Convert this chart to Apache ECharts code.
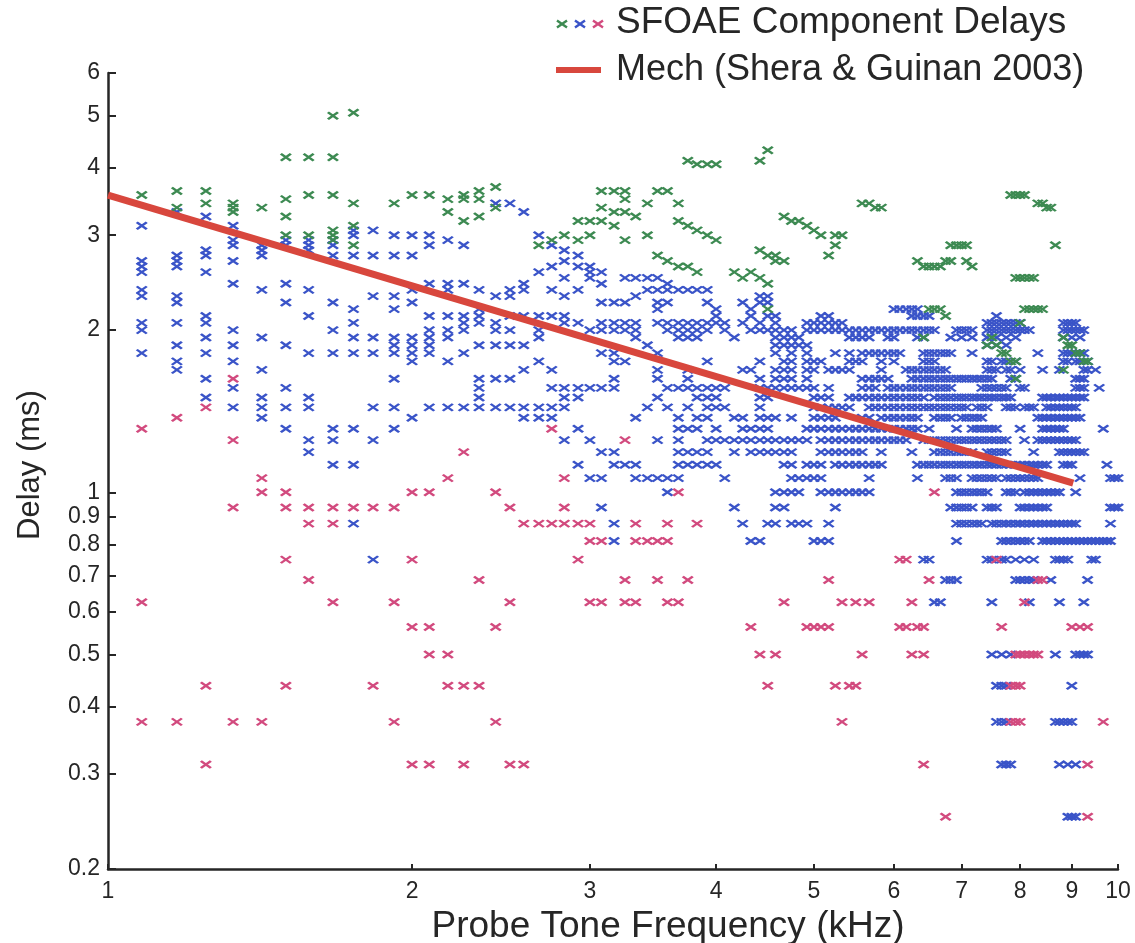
<!DOCTYPE html>
<html>
<head>
<meta charset="utf-8">
<title>SFOAE component delays</title>
<script src="https://cdn.jsdelivr.net/npm/echarts@6/dist/echarts.min.js"></script>
<style>
  html, body { margin: 0; padding: 0; background: #fff; }
  #chart { width: 1135px; height: 943px; }
</style>
</head>
<body>
<div id="chart"></div>
<script>
// Tick values for the two log axes
const freqTicks = [1, 2, 3, 4, 5, 6, 7, 8, 9, 10];
const delayTicks = [0.2, 0.3, 0.4, 0.5, 0.6, 0.7, 0.8, 0.9, 1, 2, 3, 4, 5, 6];

// Each row: [delay (ms), [probe frequencies (kHz) with a component at that delay]]
// Long-delay components (green)
const longDelays = [
  [5.0625, [1.75]],
  [5.0, [1.67]],
  [4.3125, [4.5]],
  [4.1875, [1.5, 1.58, 1.67]],
  [4.125, [3.75, 4.42]],
  [4.0625, [3.83, 3.92, 4]],
  [3.6875, [2.42]],
  [3.625, [1.17, 1.25, 2.33, 3.08, 3.17, 3.25, 3.5, 3.58]],
  [3.5625, [1.08, 1.58, 1.67, 2, 2.08, 2.25, 7.83, 7.92, 8, 8.08]],
  [3.5, [1.5, 2.17, 2.25, 2.33, 3.25]],
  [3.4375, [1.25, 1.33, 1.75, 1.92, 3.42, 3.67, 5.58, 5.67, 8.33, 8.42]],
  [3.375, [1.17, 1.33, 1.42, 2.42, 3.08, 5.75, 5.83, 8.5, 8.58]],
  [3.3125, [1.33, 2.17, 3.17, 3.25]],
  [3.25, [1.5, 2.33, 3.33, 4.67]],
  [3.1875, [2.25, 2.92, 3, 3.08, 3.67, 4.75, 4.83]],
  [3.125, [1.75, 3.17, 3.75, 4.92]],
  [3.0625, [1.67, 3.83, 5]],
  [3.0, [1.5, 1.58, 1.67, 2.83, 3, 3.42, 3.92, 5.08, 5.25, 5.33]],
  [2.9375, [1.67, 2.75, 2.92, 3.25, 4]],
  [2.875, [1.75, 2.67, 5.25, 6.83, 6.92, 7, 7.08, 8.67]],
  [2.8125, [4.42]],
  [2.75, [3.5, 4.5, 4.58, 5.17]],
  [2.6875, [3.58, 4.58, 4.67, 6.33, 6.75, 6.83, 7.08]],
  [2.625, [3.67, 3.75, 6.42, 6.5, 6.58, 6.67, 7.17]],
  [2.5625, [3.83, 4.17, 4.33]],
  [2.5, [4.25, 4.42, 7.92, 8, 8.08, 8.17, 8.25]],
  [2.4375, [4.5]],
  [2.1875, [4.5, 6.5, 6.58, 6.67, 8.08, 8.17, 8.25, 8.33, 8.42]],
  [2.125, [6.75]],
  [2.0625, [8]],
  [1.9375, [6.42, 7.5, 8.83]],
  [1.875, [7.42, 7.58, 8.92, 9]],
  [1.8125, [7.67, 7.75, 9.08, 9.17]],
  [1.75, [7.83, 7.92, 9.25, 9.33]],
  [1.6875, [8.83]],
  [1.625, [7.92]]
];

// Main components (blue)
const mainDelays = [
  [3.4375, [2.42, 2.5]],
  [3.3125, [1.17, 2.58]],
  [3.25, [1.25]],
  [3.125, [1.08, 1.33]],
  [3.0625, [1.75, 1.83]],
  [3.0, [1.75, 1.92, 2, 2.08, 2.67]],
  [2.9375, [1.33, 1.5, 1.58, 1.67, 2.17]],
  [2.875, [1.33, 1.42, 1.5, 1.58, 1.67, 2.08, 2.25, 2.75]],
  [2.8125, [1.25, 1.42, 1.58, 2.83]],
  [2.75, [1.17, 1.25, 1.42, 1.67, 1.75, 1.83, 1.92, 2, 2.92]],
  [2.6875, [1.08, 1.17, 1.33, 2.83]],
  [2.625, [1.08, 1.17, 2.75, 2.92, 3]],
  [2.5625, [1.08, 1.25, 2.67, 3, 3.08]],
  [2.5, [2.83, 3, 3.25, 3.33, 3.42, 3.5]],
  [2.4375, [1.33, 1.5, 2.08, 2.17, 2.25, 2.58, 3.08, 3.58]],
  [2.375, [1.08, 1.42, 1.58, 2, 2.17, 2.33, 2.5, 2.58, 2.75, 2.92, 3.42, 3.5, 3.58, 3.67, 3.75, 3.83, 3.92]],
  [2.3125, [1.08, 1.17, 1.83, 1.92, 2.42, 2.5, 2.83, 3.33, 4.42, 4.5]],
  [2.25, [1.17, 1.5, 1.67, 2, 3.08, 3.17, 3.25, 3.5, 3.58, 3.92, 4.25, 4.42, 4.5]],
  [2.1875, [1.75, 1.92, 2.33, 3.5, 4, 4.33, 6, 6.08, 6.17, 6.25, 6.33]],
  [2.125, [1.25, 1.58, 2.08, 2.17, 2.25, 2.33, 2.5, 2.58, 2.67, 2.75, 2.83, 4, 4.33, 4.5, 4.58, 5.08, 5.17, 6.25, 6.33, 6.42, 6.5, 7.58]],
  [2.0625, [1.08, 1.17, 1.25, 1.75, 2.25, 2.33, 2.42, 2.83, 2.92, 3.08, 3.17, 3.25, 3.33, 3.5, 3.58, 3.67, 3.75, 3.83, 3.92, 4, 4.08, 4.25, 4.42, 4.58, 4.92, 5, 5.08, 5.17, 5.25, 5.33, 7.42, 7.5, 7.58, 7.67, 7.75, 7.83, 7.92, 8, 8.83, 8.92, 9, 9.08]],
  [2.0, [1.08, 1.33, 1.67, 2.08, 2.17, 2.25, 2.42, 2.5, 2.67, 3, 3.08, 3.17, 3.25, 3.33, 3.58, 3.67, 3.75, 3.83, 3.92, 4.08, 4.33, 4.42, 4.5, 4.58, 4.67, 4.75, 4.92, 5, 5.08, 5.17, 5.25, 5.33, 5.42, 5.5, 5.58, 5.67, 5.75, 5.83, 5.92, 6, 6.08, 6.17, 6.25, 6.33, 6.42, 6.5, 6.58, 6.92, 7, 7.08, 7.17, 7.42, 7.5, 7.58, 7.67, 7.75, 7.83, 7.92, 8, 8.08, 8.17, 8.83, 8.92, 9, 9.08, 9.17, 9.25]],
  [1.9375, [1.25, 1.42, 1.75, 1.83, 1.92, 2, 2.08, 2.17, 2.67, 3.33, 3.67, 3.75, 3.83, 4.17, 4.58, 4.67, 4.75, 4.83, 5.42, 5.5, 5.58, 5.67, 5.92, 6, 6.33, 6.42, 6.83, 7, 7.17, 7.42, 7.58, 7.75, 7.92, 8.83, 9, 9.17]],
  [1.875, [1.17, 1.33, 1.5, 1.92, 2, 2.08, 2.33, 2.42, 2.5, 2.58, 3.42, 4.58, 4.67, 4.75, 4.83, 4.92, 7.42, 7.58, 7.75]],
  [1.8125, [1.08, 1.25, 1.58, 1.67, 1.75, 1.83, 1.92, 2, 2.08, 2.25, 3.08, 3.17, 3.5, 4.58, 4.75, 4.92, 5.25, 5.42, 5.58, 5.67, 5.75, 5.83, 5.92, 6, 6.08, 6.42, 6.5, 6.58, 6.67, 6.75, 6.83, 7.17, 8.33, 8.83, 8.92, 9, 9.08, 9.17, 9.25]],
  [1.75, [1.17, 1.33, 2, 2.17, 2.67, 3.17, 3.25, 3.92, 4.42, 4.67, 4.75, 4.92, 5, 5.08, 5.42, 5.5, 5.58, 5.83, 6, 6.42, 6.5, 6.58, 7.42, 7.5, 7.67, 7.75, 7.92, 8.83, 8.92, 9.08, 9.17, 9.33]],
  [1.6875, [1.17, 1.42, 2.58, 2.75, 3.5, 3.75, 4.25, 4.33, 4.58, 4.67, 4.75, 4.92, 5, 5.17, 5.25, 5.33, 5.42, 5.83, 6.17, 6.25, 6.33, 6.42, 6.5, 6.58, 6.67, 6.75, 7.42, 7.5, 7.58, 7.75, 7.83, 8, 8.42, 8.75, 9.25, 9.33, 9.5]],
  [1.625, [1.25, 1.92, 2.33, 2.42, 2.5, 3.17, 3.5, 3.75, 4.42, 4.58, 4.67, 4.75, 4.92, 5.58, 5.67, 5.75, 5.83, 5.92, 6.25, 6.33, 6.42, 6.5, 6.58, 6.67, 6.75, 6.83, 6.92, 7, 7.08, 7.17, 7.25, 7.33, 7.42, 7.5, 7.83, 7.92, 9.08, 9.17, 9.25]],
  [1.5625, [1.33, 1.5, 2.33, 2.75, 2.83, 2.92, 3, 3.08, 3.17, 3.58, 3.67, 3.75, 3.83, 3.92, 4, 4.08, 4.42, 4.5, 4.58, 4.67, 4.75, 4.83, 4.92, 5, 5.17, 5.58, 5.67, 5.75, 5.92, 6, 6.08, 6.17, 6.25, 6.33, 6.42, 6.5, 6.58, 6.67, 6.75, 6.83, 7.33, 7.42, 7.5, 7.58, 7.67, 7.75, 8, 8.08, 9.08, 9.17, 9.25, 9.58]],
  [1.5, [1.25, 1.42, 1.58, 2.33, 2.83, 2.92, 3.5, 3.83, 3.92, 4, 4.42, 4.5, 5, 5.08, 5.17, 5.42, 5.5, 5.58, 5.67, 5.75, 5.83, 5.92, 6, 6.08, 6.17, 6.25, 6.33, 6.42, 6.58, 6.67, 6.75, 6.83, 6.92, 7, 7.08, 7.17, 7.25, 7.33, 7.42, 7.5, 7.58, 7.67, 7.75, 7.83, 8.42, 8.5, 8.58, 8.67, 8.75, 8.83, 8.92, 9, 9.08, 9.17, 9.25]],
  [1.4375, [1.33, 1.42, 1.5, 1.58, 1.83, 1.92, 2.08, 2.17, 2.25, 2.33, 2.42, 2.5, 2.58, 2.67, 2.75, 2.83, 3.42, 3.58, 3.75, 3.92, 4, 4.08, 4.42, 5, 5.08, 5.17, 5.25, 5.33, 5.42, 5.67, 5.75, 5.83, 5.92, 6, 6.08, 6.17, 6.25, 6.33, 6.42, 6.5, 6.58, 6.67, 6.75, 6.83, 6.92, 7, 7.08, 7.25, 7.33, 7.42, 7.75, 7.83, 7.92, 8.08, 8.17, 8.25, 8.5, 8.58, 8.67, 8.75, 8.83, 8.92, 9, 9.08]],
  [1.375, [1.42, 2, 2.58, 2.67, 2.75, 3.33, 3.67, 3.83, 3.92, 4.17, 4.25, 4.42, 4.5, 4.58, 4.75, 5, 5.08, 5.17, 5.25, 5.58, 5.67, 5.83, 5.92, 6, 6.08, 6.17, 6.25, 6.33, 6.58, 6.67, 6.75, 6.83, 7, 7.08, 7.17, 7.25, 7.33, 8.33, 8.42, 8.5, 8.58, 8.67, 8.75, 8.83, 8.92, 9, 9.08, 9.17]],
  [1.3125, [1.5, 1.67, 1.75, 1.92, 2.92, 3.67, 3.75, 3.83, 4, 4.25, 4.33, 4.42, 4.5, 4.92, 5, 5.08, 5.17, 5.25, 5.33, 5.42, 5.5, 5.58, 5.67, 5.75, 5.83, 5.92, 6, 6.08, 6.17, 6.25, 6.33, 6.5, 6.92, 7.17, 7.25, 7.33, 7.42, 7.5, 7.58, 8, 8.42, 8.5, 8.58, 8.67, 8.75, 8.83, 9.67]],
  [1.25, [1.58, 1.67, 1.83, 2.83, 3, 3.5, 3.67, 3.92, 4, 4.08, 4.17, 4.25, 4.33, 4.42, 4.5, 4.58, 4.67, 4.75, 4.83, 4.92, 5.08, 5.17, 5.25, 5.33, 5.42, 5.5, 5.58, 5.67, 5.75, 5.83, 5.92, 6, 6.08, 6.17, 6.42, 6.5, 6.58, 6.67, 6.75, 6.83, 6.92, 7, 7.08, 7.17, 7.25, 7.33, 7.42, 7.5, 7.58, 7.67, 7.75, 8.08, 8.33, 8.42, 8.5, 8.58, 8.67, 8.75, 8.83, 8.92, 9, 9.08]],
  [1.1875, [1.58, 3.08, 3.17, 3.67, 3.75, 3.83, 3.92, 4.17, 4.33, 4.42, 4.5, 4.58, 4.67, 4.75, 5.08, 5.17, 5.25, 5.33, 5.42, 5.5, 5.58, 5.83, 6.25, 6.58, 6.67, 6.75, 6.83, 6.92, 7, 7.08, 7.17, 7.42, 7.5, 7.58, 7.67, 7.75, 8.25, 8.75, 8.83, 8.92, 9, 9.08, 9.17, 9.25]],
  [1.125, [1.67, 1.75, 2.92, 3.17, 3.25, 3.33, 3.67, 3.75, 3.83, 3.92, 4, 4.67, 4.75, 4.92, 5, 5.08, 5.25, 5.33, 5.42, 5.5, 5.58, 5.67, 5.75, 5.83, 6.33, 6.42, 6.5, 6.58, 6.67, 6.75, 6.83, 6.92, 7, 7.08, 7.17, 7.25, 7.33, 7.42, 7.5, 7.58, 7.67, 7.75, 7.83, 7.92, 8, 8.08, 8.17, 8.25, 8.33, 8.42, 8.5, 8.83, 8.92, 9, 9.75]],
  [1.0625, [3, 3.08, 3.33, 3.42, 3.5, 3.58, 3.67, 4.08, 4.75, 4.83, 4.92, 5, 5.08, 5.67, 6.33, 6.75, 6.83, 6.92, 7.17, 7.25, 7.33, 7.42, 7.5, 7.58, 7.75, 7.83, 7.92, 8, 8.08, 8.17, 8.25, 8.33, 9.17, 9.83, 9.92, 10]],
  [1.0, [3.58, 4.58, 4.67, 4.75, 4.83, 5.08, 5.17, 5.25, 5.33, 5.42, 5.5, 5.58, 5.67, 6.92, 7, 7.08, 7.17, 7.25, 7.33, 7.42, 7.75, 7.83, 7.92, 8.08, 8.17, 8.25, 8.33, 8.42, 8.5, 8.58, 8.67, 8.75, 9.08]],
  [0.9375, [3.08, 4.17, 4.58, 4.67, 5.25, 6.83, 6.92, 7, 7.08, 7.17, 7.42, 7.5, 7.58, 8, 8.08, 8.17, 8.25, 8.33, 8.42, 8.5, 9.83, 9.92, 10]],
  [0.875, [1.75, 3.17, 4.25, 4.5, 4.58, 4.75, 4.83, 4.92, 5.17, 6.92, 7, 7.08, 7.17, 7.25, 7.33, 7.5, 7.58, 7.67, 7.75, 7.83, 7.92, 8, 8.08, 8.17, 8.25, 8.33, 8.42, 8.5, 8.58, 8.67, 8.75, 8.83, 8.92, 9, 9.08, 9.83]],
  [0.8125, [3.17, 4.33, 4.42, 5, 5.08, 5.17, 6.92, 7.67, 7.75, 7.83, 7.92, 8, 8.08, 8.17, 8.42, 8.5, 8.58, 8.67, 8.75, 8.83, 8.92, 9, 9.08, 9.17, 9.25, 9.33, 9.42, 9.5, 9.58, 9.67, 9.75, 9.83]],
  [0.75, [1.83, 6.42, 6.5, 7.42, 7.5, 7.67, 7.75, 7.92, 8.08, 8.25, 8.67, 8.75, 8.83, 8.92, 9.42, 9.5]],
  [0.6875, [6.75, 6.83, 6.92, 7.92, 8, 8.08, 8.17, 8.25, 8.58, 9.33]],
  [0.625, [6.58, 6.67, 7.5, 8.17, 8.75, 9.25]],
  [0.5, [7.5, 7.67, 7.83, 8.67, 9.08, 9.17, 9.25, 9.33]],
  [0.4375, [7.58, 7.67, 7.75, 9]],
  [0.375, [7.58, 7.67, 7.75, 8.67, 8.75, 8.83, 8.92, 9]],
  [0.3125, [7.67, 7.75, 7.83, 8.75, 8.92, 9.08]],
  [0.25, [8.92, 9, 9.08]]
];

// Short-delay components (magenta)
const shortDelays = [
  [1.625, [1.33]],
  [1.4375, [1.25]],
  [1.375, [1.17]],
  [1.3125, [1.08, 2.75]],
  [1.25, [1.33, 3.25]],
  [1.1875, [2.25]],
  [1.0625, [1.42, 2.17, 2.83]],
  [1.0, [1.42, 1.5, 2, 2.08, 2.42, 3.67, 6.58]],
  [0.9375, [1.33, 1.5, 1.58, 1.67, 1.75, 1.83, 1.92, 2.5, 2.83]],
  [0.875, [1.58, 1.67, 2.58, 2.67, 2.75, 2.83, 2.92, 3, 3.33, 3.58, 3.83]],
  [0.8125, [3, 3.08, 3.33, 3.42, 3.5, 3.58]],
  [0.75, [1.5, 2, 2.92, 6.08, 6.17, 7.58]],
  [0.6875, [1.58, 2.33, 3.25, 3.5, 3.75, 5.17, 6.5, 8.33, 8.42]],
  [0.625, [1.08, 1.67, 1.92, 2.5, 3, 3.08, 3.25, 3.33, 3.58, 3.67, 4.67, 5.33, 5.5, 5.67, 6.25, 8.08]],
  [0.5625, [2, 2.08, 2.42, 4.33, 4.92, 5, 5.08, 5.17, 6.08, 6.17, 6.33, 6.42, 7.67, 9, 9.17, 9.33]],
  [0.5, [2.08, 2.17, 4.42, 4.58, 5.58, 6.25, 6.42, 7.92, 8, 8.08, 8.17, 8.25, 8.33]],
  [0.4375, [1.25, 1.5, 1.83, 2.17, 2.25, 2.33, 4.5, 5.25, 5.42, 5.5, 7.83, 7.92, 8]],
  [0.375, [1.08, 1.17, 1.33, 1.42, 1.92, 2.42, 5.33, 7.83, 7.92, 8, 9.67]],
  [0.3125, [1.25, 2, 2.08, 2.25, 2.5, 2.58, 6.42, 9.33]],
  [0.25, [6.75, 9.33]]
];

// Mechanical delay model (straight on log-log axes): [kHz, ms]
const mechFreq = [1, 9.03];
const mechDelay = [3.56, 1.04];

const GREEN = '#3d8a52';
const BLUE = '#3a54c8';
const PINK = '#d24a7e';
const RED = '#d8473d';
const AXIS = '#262626';
const TEXT = '#262626';
const FONT = '"Liberation Sans", Arial, Helvetica, sans-serif';

// small "x" marker, wider than tall
const xMark = 'path://M0 0L10 7M0 7L10 0';

function toPoints(rows) {
  const pts = [];
  rows.forEach(function (row) {
    row[1].forEach(function (f) { pts.push([f, row[0]]); });
  });
  return pts;
}

function markerSeries(name, rows, color, z) {
  return {
    name: name,
    type: 'scatter',
    data: toPoints(rows),
    symbol: xMark,
    symbolSize: [10, 7],
    itemStyle: { color: color, borderColor: color, borderWidth: 2.4, opacity: 1 },
    emphasis: { disabled: true },
    silent: true,
    z: z
  };
}

function tickText(v) {
  return String(Math.round(v * 10) / 10);
}

function legendCross(cx, cy, color) {
  return [
    { type: 'line', shape: { x1: cx - 5, y1: cy - 3.5, x2: cx + 5, y2: cy + 3.5 }, style: { stroke: color, lineWidth: 2.4 } },
    { type: 'line', shape: { x1: cx - 5, y1: cy + 3.5, x2: cx + 5, y2: cy - 3.5 }, style: { stroke: color, lineWidth: 2.4 } }
  ];
}

const chart = echarts.init(document.getElementById('chart'), null, { renderer: 'canvas' });

chart.setOption({
  backgroundColor: '#ffffff',
  animation: false,
  textStyle: { fontFamily: FONT },
  grid: { left: 108, right: 17, top: 73, bottom: 74, containLabel: false, outerBoundsMode: 'none' },
  xAxis: {
    type: 'log',
    logBase: 10,
    min: 1,
    max: 10,
    name: 'Probe Tone Frequency (kHz)',
    nameLocation: 'middle',
    nameGap: 34,
    nameTextStyle: { fontSize: 37, color: TEXT, fontFamily: FONT, padding: [0, 0, 0, 110] },
    axisLine: { show: true, onZero: false, lineStyle: { color: AXIS, width: 2.5 } },
    axisTick: { show: true, inside: true, length: 5, customValues: freqTicks, lineStyle: { color: AXIS, width: 2 } },
    axisLabel: { customValues: freqTicks, formatter: tickText, fontSize: 23, color: TEXT, margin: 11, fontFamily: FONT },
    splitLine: { show: false },
    minorTick: { show: false }
  },
  yAxis: {
    type: 'log',
    logBase: 10,
    min: 0.2,
    max: 6,
    name: 'Delay (ms)',
    nameLocation: 'middle',
    nameGap: 62,
    nameTextStyle: { fontSize: 31, color: TEXT, fontFamily: FONT, padding: [0, 0, 0, 12] },
    axisLine: { show: true, onZero: false, lineStyle: { color: AXIS, width: 2.5 } },
    axisTick: { show: true, inside: true, length: 8, customValues: delayTicks, lineStyle: { color: AXIS, width: 2 } },
    axisLabel: { customValues: delayTicks, formatter: tickText, fontSize: 23, color: TEXT, margin: 8, fontFamily: FONT },
    splitLine: { show: false },
    minorTick: { show: false }
  },
  series: [
    markerSeries('main', mainDelays, BLUE, 2),
    markerSeries('short', shortDelays, PINK, 3),
    markerSeries('long', longDelays, GREEN, 4),
    {
      name: 'Mech (Shera & Guinan 2003)',
      type: 'line',
      data: mechFreq.map(function (f, i) { return [f, mechDelay[i]]; }),
      symbol: 'none',
      lineStyle: { color: RED, width: 7, cap: 'butt' },
      silent: true,
      z: 5
    }
  ],
  graphic: [].concat(
    legendCross(562, 24, GREEN),
    legendCross(580, 24, BLUE),
    legendCross(598, 24, PINK),
    [
      { type: 'text', style: { text: 'SFOAE Component Delays', x: 616, y: 23, fill: TEXT, font: '37px ' + FONT, verticalAlign: 'middle' } },
      { type: 'line', shape: { x1: 556, y1: 70, x2: 601, y2: 70 }, style: { stroke: RED, lineWidth: 6 } },
      { type: 'text', style: { text: 'Mech (Shera & Guinan 2003)', x: 616, y: 70, fill: TEXT, font: '36px ' + FONT, verticalAlign: 'middle' } }
    ]
  )
});
</script>
</body>
</html>
